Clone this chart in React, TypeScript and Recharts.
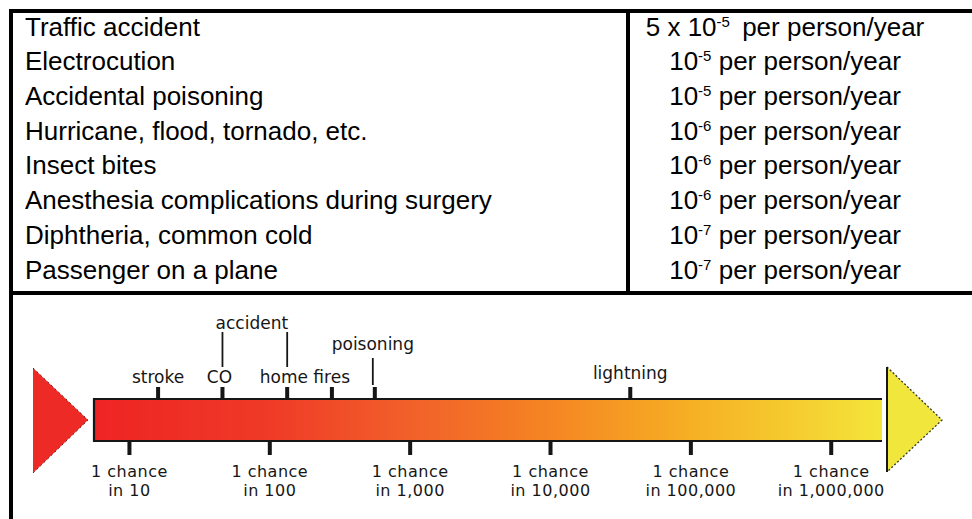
import { ComposedChart, Scatter, XAxis, YAxis, ReferenceArea } from "recharts";

// table rows
const hazards = [
  "Traffic accident",
  "Electrocution",
  "Accidental poisoning",
  "Hurricane, flood, tornado, etc.",
  "Insect bites",
  "Anesthesia complications during surgery",
  "Diphtheria, common cold",
  "Passenger on a plane",
];
const rateFactors = ["5 x ", "", "", "", "", "", "", ""];
const rateExponents = [-5, -5, -5, -6, -6, -6, -7, -7];

// odds scale ("1 chance in N")
const oddsTicks = [10, 100, 1000, 10000, 100000, 1000000];
const oddsDomain = [5.5, 2300000];
const markerNames = ["stroke", "CO", "accident", "home fires", "poisoning", "lightning"];
const markerOdds = [16, 46, 133, 277, 560, 37000];
const accidentRange = [46, 133];

const markers = markerNames.map((name, i) => ({ name, odds: markerOdds[i], level: 1 }));
const accidentLegs = accidentRange.map((odds) => ({ odds, level: 1 }));
const accidentLabel = [{ odds: Math.sqrt(accidentRange[0] * accidentRange[1]), level: 1, name: "accident" }];

const labelLayout: Record<string, { dx: number; dy: number; leader?: [number, number] }> = {
  stroke: { dx: 0, dy: -15 },
  CO: { dx: -3, dy: -15 },
  "home fires": { dx: -27, dy: -15 },
  poisoning: { dx: -2, dy: -48, leader: [-40, -13] },
  lightning: { dx: 0, dy: -19 },
};

const INK = "#161616";
const LABEL_FONT = "'DejaVu Sans', sans-serif";

function ScaleBar(props: any) {
  const { x, y, width, height } = props;
  const mid = y + height / 2;
  const r = x + width;
  return (
    <g>
      <polygon points={`${x - 60},${mid - 52} ${x - 5},${mid} ${x - 60},${mid + 53}`} fill="#ee2a26" />
      <path
        d={`M${x - 60},${mid - 52} L${x - 5},${mid} L${x - 60},${mid + 53}`}
        stroke="#5a1a1a"
        strokeWidth={1}
        strokeDasharray="2 3"
        fill="none"
      />
      <rect x={x} y={y} width={width} height={height} fill="url(#riskGradient)" />
      <path d={`M${r},${y + 1} H${x + 1} V${y + height - 1} H${r}`} stroke={INK} strokeWidth={2.2} fill="none" />
      <polygon points={`${r + 5},${mid - 53} ${r + 60},${mid} ${r + 5},${mid + 52}`} fill="#f1e63c" />
      <path
        d={`M${r + 5},${mid - 53} L${r + 60},${mid} L${r + 5},${mid + 52}`}
        stroke="#333"
        strokeWidth={1.3}
        strokeDasharray="2 2"
        fill="none"
      />
      <line x1={r + 5} y1={mid - 53} x2={r + 5} y2={mid + 52} stroke={INK} strokeWidth={2} />
    </g>
  );
}

function MarkerShape(props: any) {
  const { cx, cy, payload } = props;
  const lay = labelLayout[payload.name];
  return (
    <g>
      <rect x={cx - 2} y={cy - 11} width={4} height={11} fill={INK} />
      {lay && (
        <text x={cx + lay.dx} y={cy + lay.dy} textAnchor="middle" fontFamily={LABEL_FONT} fontSize={17} fill={INK}>
          {payload.name}
        </text>
      )}
      {lay && lay.leader && (
        <line x1={cx - 2} x2={cx - 2} y1={cy + lay.leader[0]} y2={cy + lay.leader[1]} stroke={INK} strokeWidth={1.8} />
      )}
    </g>
  );
}

function LegShape(props: any) {
  const { cx, cy } = props;
  return <line x1={cx} x2={cx} y1={cy - 66} y2={cy - 31} stroke={INK} strokeWidth={1.8} />;
}

function BracketLabel(props: any) {
  const { cx, cy, payload } = props;
  return (
    <text x={cx - 3} y={cy - 69} textAnchor="middle" fontFamily={LABEL_FONT} fontSize={17} fill={INK}>
      {payload.name}
    </text>
  );
}

function BottomTick(props: any) {
  const { x, y, payload } = props;
  return (
    <g>
      <rect x={x - 2} y={y} width={4} height={13} fill={INK} />
      <text
        x={x}
        y={y + 35}
        textAnchor="middle"
        fontFamily={LABEL_FONT}
        fontSize={16}
        letterSpacing={0.5}
        fill={INK}
      >
        <tspan x={x}>1 chance</tspan>
        <tspan x={x} dy={19}>{`in ${Number(payload.value).toLocaleString("en-US")}`}</tspan>
      </text>
    </g>
  );
}

const ROW_TOP = 9.6;
const ROW_H = 34.7;

export default function App() {
  return (
    <div
      style={{
        position: "absolute",
        left: 0,
        top: 0,
        width: 972,
        height: 519,
        overflow: "hidden",
        background: "#fff",
        fontFamily: "'Liberation Sans', Arial, sans-serif",
        color: "#000",
      }}
    >
      {/* table rules */}
      <div style={{ position: "absolute", left: 9, top: 9, width: 963, height: 3.5, background: "#000" }} />
      <div style={{ position: "absolute", left: 9, top: 9, width: 3.5, height: 510, background: "#000" }} />
      <div style={{ position: "absolute", left: 626, top: 9, width: 3.5, height: 284, background: "#000" }} />
      <div style={{ position: "absolute", left: 9, top: 291, width: 963, height: 3.5, background: "#000" }} />

      {hazards.map((h, i) => (
        <div
          key={h}
          style={{
            position: "absolute",
            left: 25,
            top: ROW_TOP + i * ROW_H,
            height: ROW_H,
            lineHeight: `${ROW_H}px`,
            fontSize: 26,
            whiteSpace: "nowrap",
          }}
        >
          {h}
        </div>
      ))}
      {rateExponents.map((e, i) => (
        <div
          key={i}
          style={{
            position: "absolute",
            left: 629,
            width: 312,
            top: ROW_TOP + i * ROW_H,
            height: ROW_H,
            lineHeight: `${ROW_H}px`,
            fontSize: 26,
            textAlign: "center",
            whiteSpace: "nowrap",
          }}
        >
          {rateFactors[i]}10
          <span style={{ fontSize: 15, verticalAlign: "9px", lineHeight: 0, marginRight: rateFactors[i] ? 5 : 0 }}>
            {e}
          </span>{" "}
          per person/year
        </div>
      ))}

      <div style={{ position: "absolute", left: 0, top: 296 }}>
        <ComposedChart width={972} height={223} margin={{ top: 102, right: 90, bottom: 17, left: 93 }}>
          <defs>
            <linearGradient id="riskGradient" x1="0" y1="0" x2="1" y2="0">
              <stop offset="0%" stopColor="#ee2424" />
              <stop offset="22%" stopColor="#ef3a27" />
              <stop offset="42%" stopColor="#f2642a" />
              <stop offset="58%" stopColor="#f58522" />
              <stop offset="76%" stopColor="#f6b024" />
              <stop offset="100%" stopColor="#f4e53a" />
            </linearGradient>
          </defs>
          <XAxis
            type="number"
            scale="log"
            dataKey="odds"
            domain={oddsDomain}
            ticks={oddsTicks}
            interval={0}
            axisLine={false}
            tickLine={false}
            tickSize={0}
            tickMargin={0}
            height={60}
            tick={(p: any) => <BottomTick {...p} />}
          />
          <YAxis type="number" dataKey="level" domain={[0, 1]} hide />
          <ReferenceArea
            x1={oddsDomain[0]}
            x2={oddsDomain[1]}
            y1={0}
            y2={1}
            shape={(p: any) => <ScaleBar {...p} />}
          />
          <Scatter data={accidentLegs} isAnimationActive={false} shape={(p: any) => <LegShape {...p} />} />
          <Scatter data={accidentLabel} isAnimationActive={false} shape={(p: any) => <BracketLabel {...p} />} />
          <Scatter data={markers} isAnimationActive={false} shape={(p: any) => <MarkerShape {...p} />} />
        </ComposedChart>
      </div>
    </div>
  );
}
